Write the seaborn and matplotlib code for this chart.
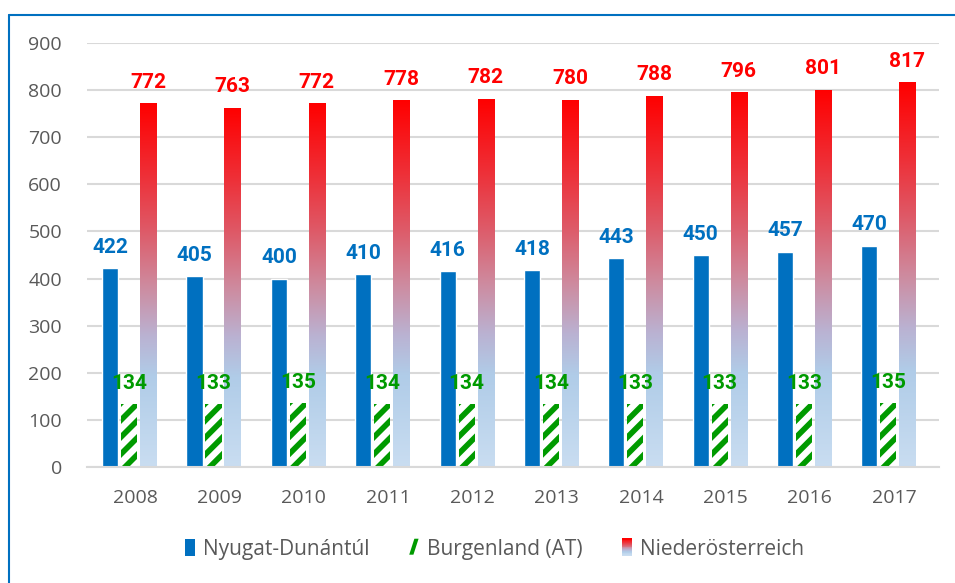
import numpy as np
import pandas as pd
import matplotlib
matplotlib.use("Agg")
import matplotlib.pyplot as plt
import seaborn as sns
from matplotlib.colors import LinearSegmentedColormap
from matplotlib.legend_handler import HandlerBase
from matplotlib.patches import Rectangle, Polygon
from matplotlib.lines import Line2D

years = ["2008", "2009", "2010", "2011", "2012", "2013", "2014", "2015", "2016", "2017"]
nyugat = [422, 405, 400, 410, 416, 418, 443, 450, 457, 470]
burgenland = [134, 133, 135, 134, 134, 134, 133, 133, 133, 135]
nieder = [772, 763, 772, 778, 782, 780, 788, 796, 801, 817]
series_names = ["Nyugat-Dunántúl", "Burgenland (AT)", "Niederösterreich"]
yticks = [0, 100, 200, 300, 400, 500, 600, 700, 800, 900]

BLUE = "#0070C0"
GREEN = "#009A00"
RED = "#FF0000"
GRID = "#D9D9D9"
TXT = "#595959"

sns.set_theme(style="white")
plt.rcParams["font.family"] = ["Open Sans", "DejaVu Sans"]

df = pd.DataFrame({
    "year": years * 3,
    "value": nyugat + burgenland + nieder,
    "series": [series_names[0]] * 10 + [series_names[1]] * 10 + [series_names[2]] * 10,
})

fig = plt.figure(figsize=(9.55, 5.83), dpi=100)
ax = fig.add_axes([87 / 955, 116 / 583, (939 - 87) / 955, (467 - 43) / 583])

sns.barplot(data=df, x="year", y="value", hue="series", hue_order=series_names,
            palette=[BLUE, GREEN, RED], width=0.675, gap=0.15, legend=False,
            ax=ax, saturation=1, errorbar=None)

XL = (-0.57, 9.53)
ax.set_xlim(*XL)
ax.set_ylim(0, 900)
ax.set_yticks(yticks)
ax.yaxis.grid(True, color=GRID, linewidth=1.5)
ax.set_axisbelow(True)
for s in ["top", "right", "left"]:
    ax.spines[s].set_visible(False)
ax.spines["bottom"].set_color(GRID)
ax.spines["bottom"].set_linewidth(1.5)
ax.set_xlabel("")
ax.set_ylabel("")
ax.tick_params(axis="both", length=0, labelsize=14, colors=TXT)
ax.tick_params(axis="y", pad=18)
ax.tick_params(axis="x", pad=16)

cont_blue, cont_green, cont_red = ax.containers[0], ax.containers[1], ax.containers[2]
for cont in (cont_blue, cont_green, cont_red):
    for p in cont:
        p.set_x(p.get_x() - 0.07)

# green bars: white with thick diagonal stripes clipped to the bar
to_disp = ax.transData
to_data = ax.transData.inverted()
PERIOD, THICK = 17.0, 8.0
for p in cont_green:
    p.set_facecolor("white")
    p.set_linewidth(0)
    (x0, y0), (x1, y1) = to_disp.transform([(p.get_x(), p.get_y()),
                                            (p.get_x() + p.get_width(), p.get_y() + p.get_height())])
    c = (y1 - x0) - 3.0
    while c + THICK > (y0 - x1) - PERIOD:
        pts = np.array([(x0 - 2, x0 - 2 + c), (x1 + 2, x1 + 2 + c),
                        (x1 + 2, x1 + 2 + c + THICK), (x0 - 2, x0 - 2 + c + THICK)])
        poly = Polygon(to_data.transform(pts), closed=True, facecolor=GREEN,
                       edgecolor="none", zorder=p.get_zorder() + 0.1)
        ax.add_patch(poly)
        poly.set_clip_path(p)
        c -= PERIOD

cmap = LinearSegmentedColormap.from_list(
    "grad",
    [(0.0, "#C9DDF1"), (0.25, "#B0CCE8"), (0.36, "#BAB2D2"), (0.5, "#CE8A9E"),
     (0.65, "#DE5A68"), (0.8, "#EE3038"), (1.0, "#FF0000")], N=256)
grad = np.linspace(0, 1, 256).reshape(-1, 1)
for p in cont_red:
    x0, y0 = p.get_x(), p.get_y()
    w, h = p.get_width(), p.get_height()
    p.set_facecolor("none")
    p.set_linewidth(0)
    im = ax.imshow(grad, cmap=cmap, aspect="auto", origin="lower",
                   extent=[x0, x0 + w, y0, y0 + h], zorder=p.get_zorder(),
                   interpolation="bilinear")
    im.set_clip_path(p)
ax.set_xlim(*XL)
ax.set_ylim(0, 900)

lab_font = ["Roboto", "DejaVu Sans"]
for cont, vals, col in [(cont_blue, nyugat, BLUE), (cont_green, burgenland, GREEN), (cont_red, nieder, RED)]:
    for p, v in zip(cont, vals):
        ax.annotate(str(v), (p.get_x() + p.get_width() / 2, v), xytext=(0, 11),
                    textcoords="offset points", ha="center", va="baseline",
                    fontsize=15, fontweight="bold", color=col, family=lab_font,
                    annotation_clip=False, zorder=5)


class GradHandler(HandlerBase):
    def create_artists(self, legend, orig_handle, xdescent, ydescent, width, height, fontsize, trans):
        arts = []
        n = 20
        y_bot = -ydescent - 1
        hh = height + 2
        for i in range(n):
            c = cmap(i / (n - 1))
            r = Rectangle((-xdescent, y_bot + hh * i / n), width, hh / n + 0.2,
                          facecolor=c, edgecolor="none", linewidth=0, transform=trans)
            arts.append(r)
        return arts


class RectHandler(HandlerBase):
    def create_artists(self, legend, orig_handle, xdescent, ydescent, width, height, fontsize, trans):
        r = Rectangle((-xdescent, -ydescent - 1), width, height + 2,
                      facecolor=orig_handle.get_facecolor(),
                      edgecolor="none", linewidth=0, transform=trans)
        return [r]


class StripeHandler(HandlerBase):
    def create_artists(self, legend, orig_handle, xdescent, ydescent, width, height, fontsize, trans):
        xb, yb = -xdescent, -ydescent - 1
        hh = height + 2
        poly = Polygon([(xb, yb + 1), (xb + width * 0.45, yb + 1),
                        (xb + width, yb + hh), (xb + width * 0.55, yb + hh)],
                       closed=True, facecolor=GREEN, edgecolor="none", transform=trans)
        return [poly]


h_blue = Rectangle((0, 0), 1, 1, facecolor=BLUE)
h_green = Rectangle((0, 0), 1, 1, facecolor=GREEN)
h_red = Rectangle((0, 0), 1, 1, facecolor=RED)

fig.legend([h_blue, h_green, h_red], series_names, loc="center",
           bbox_to_anchor=(0.518, 0.058), ncol=3, frameon=False,
           handlelength=0.45, handleheight=0.7, handletextpad=0.4, columnspacing=1.9,
           handler_map={h_blue: RectHandler(), h_green: StripeHandler(), h_red: GradHandler()},
           prop={"size": 15}, labelcolor=TXT)

fig.add_artist(Line2D([8.5 / 955, 8.5 / 955], [0, 1 - 14.5 / 583], color=BLUE, linewidth=1.5,
                      transform=fig.transFigure))
fig.add_artist(Line2D([8.5 / 955, 1.0], [1 - 14.5 / 583, 1 - 14.5 / 583], color=BLUE, linewidth=1.5,
                      transform=fig.transFigure))

fig.savefig("out.png", dpi=100)
